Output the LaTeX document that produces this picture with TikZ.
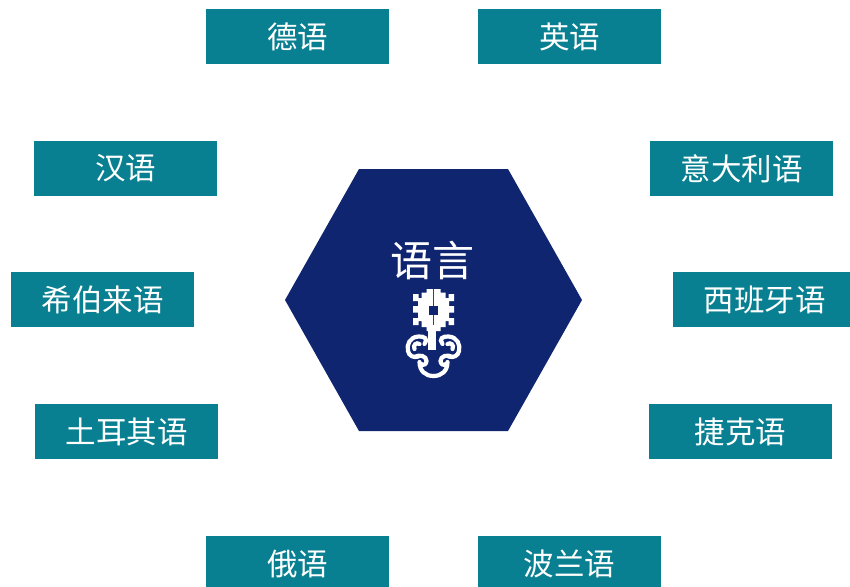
\documentclass[tikz,border=0pt]{standalone}
\usepackage{fontspec}
\newfontfamily\cjk{Noto Sans CJK SC}
\definecolor{tealbox}{RGB}{9,128,145}
\definecolor{navyhex}{RGB}{16,37,112}

\begin{document}
\begin{tikzpicture}
\tikzset{langbox/.style={fill=tealbox,text=white,inner sep=0mm,minimum width=183pt,minimum height=55pt,anchor=center,font=\cjk\fontsize{30.5}{31}\selectfont}}
\tikzset{hextitle/.style={text=white,inner sep=0mm,anchor=center,font=\cjk\fontsize{42}{42}\selectfont}}
\tikzset{iconpart/.style={fill=white,draw=none}}
\tikzset{iconcurl/.style={draw=white,line width=4.2pt,line cap=round}}

\begin{scope}[x={(1pt,0pt)},y={(0pt,-1pt)}]

\path[use as bounding box,clip] (0,0) rectangle (850,586);

\path[fill=navyhex] (285,300) -- (359,169) -- (508,169) -- (582,300) -- (508,431) -- (359,431) -- cycle;
\node[hextitle] (title) at (432,260) {语言};

\node[langbox] (de) at (297.5,36.5) {德语};
\node[langbox] (en) at (569.5,36.5) {英语};
\node[langbox] (zh) at (125.5,168.5) {汉语};
\node[langbox] (it) at (741.5,168.5) {意大利语};
\node[langbox] (he) at (102.5,299.5) {希伯来语};
\node[langbox] (es) at (764.5,299.5) {西班牙语};
\node[langbox] (tr) at (126.5,431.5) {土耳其语};
\node[langbox] (cs) at (740.5,431.5) {捷克语};
\node[langbox] (ru) at (297.5,563.5) {俄语};
\node[langbox] (pl) at (569.5,563.5) {波兰语};

% key
\path[iconpart] (428,325) rectangle (436,350);
\foreach \s in {1,-1} {
  \begin{scope}[shift={(433.5,0)},xscale=\s]
    \path[iconpart] (-0.5,289) -- (-7,289) -- (-7,292.5) -- (-12,292.5) -- (-12,298) -- (-15,298) -- (-15,294) -- (-20.5,294) -- (-20.5,301) -- (-15.5,301) -- (-15.5,306) -- (-20.5,306) -- (-20.5,312.5) -- (-15.5,312.5) -- (-15.5,318) -- (-20.5,318) -- (-20.5,325) -- (-15,325) -- (-15,321) -- (-12,321) -- (-12,327) -- (-7,327) -- (-7,331) -- (-0.5,331) -- cycle;
    \path[iconcurl] (-9,344) .. controls (-5,339) and (-9,336) .. (-15,336.5) .. controls (-24,337) and (-27,345) .. (-25.5,351) .. controls (-24.5,356) and (-20,358) .. (-15,356.5);
    \path[iconcurl] (-19,349) .. controls (-21,345) and (-17,342) .. (-14,344);
    \path[iconcurl] (-19,357) .. controls (-14,354) and (-7,356) .. (-7,361) .. controls (-7,364) and (-10,366) .. (-12.5,364);
    \path[iconcurl] (-14,362) .. controls (-14,371) and (-8,376) .. (0,376);
  \end{scope}
}
\path[fill=navyhex] (429,306) rectangle (438,315);

\end{scope}
\end{tikzpicture}
\end{document}
